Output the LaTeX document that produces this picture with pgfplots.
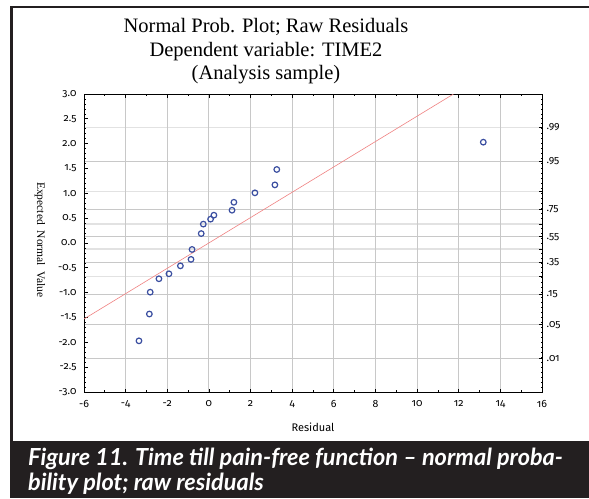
\documentclass[border=0pt]{standalone}
\usepackage{fontspec}
\setmainfont{Liberation Serif}
\newfontfamily\tickfont[Numbers=OldStyle]{Fira Sans}
\newfontfamily\capfont{Lato}
\usepackage{pgfplots}
\pgfplotsset{compat=1.18}
\definecolor{ptblue}{RGB}{58,78,160}
\definecolor{fitred}{RGB}{240,130,130}
\definecolor{gridgray}{RGB}{200,200,200}
\definecolor{gridlight}{RGB}{226,226,226}
\definecolor{capbg}{RGB}{35,31,32}

\begin{document}
\begin{tikzpicture}
\useasboundingbox (0,0) rectangle (589pt,498pt);
\fill[white] (0,0) rectangle (589pt,498pt);
\fill[capbg] (10pt,0) rectangle (589pt,57pt);
\draw[capbg, line width=2.5pt, line join=miter] (11.5pt,57pt) -- (11.5pt,491pt) -- (589pt,491pt);

% title
\node[anchor=base, font=\fontsize{20.5}{23}\selectfont] at (266pt,465pt) {Normal Prob. Plot; Raw Residuals};
\node[anchor=base, font=\fontsize{20.5}{23}\selectfont] at (266pt,441pt) {Dependent variable: TIME2};
\node[anchor=base, font=\fontsize{20.5}{23}\selectfont] at (266pt,418pt) {(Analysis sample)};

% right-hand probability scale and its grid
\begin{axis}[
  at={(84pt,106pt)}, anchor=south west, scale only axis,
  width=458pt, height=298pt,
  xmin=-6, xmax=16, ymin=-3, ymax=3,
  hide x axis, axis y line*=right,
  tick align=inside,
  ytick={-2.3263,-1.6449,-1.0364,-0.3853,0.1257,0.6745,1.6449},
  yticklabels={.01,.05,.15,.35,.55,.75,.95},
  extra y ticks={-0.6745,-0.1257,0.3853,1.0364,2.3263},
  extra y tick labels={,,,,.99},
  extra y tick style={major grid style={draw=gridlight, line width=1.6pt}},
  ymajorgrids, major grid style={draw=gridgray, line width=0.9pt},
  minor ytick={-2.9,-2.8,...,2.9},
  major tick length=3pt, minor tick length=1.5pt,
  tick style={black, line width=0.7pt},
  yticklabel style={font=\tickfont\fontsize{10.5}{11}\selectfont, xshift=1pt},
  axis line style={black, line width=1pt},
]
\end{axis}

% main axis
\begin{axis}[
  at={(84pt,106pt)}, anchor=south west, scale only axis,
  width=458pt, height=298pt,
  xmin=-6, xmax=16, ymin=-3, ymax=3,
  xtick={-6,-4,...,16},
  xticklabels={-6,-4,-2,0,2,4,6,8,10,12,14,16},
  minor x tick num=1,
  ytick={-3,-2.5,-2,-1.5,-1,-0.5,0,0.5,1,1.5,2,2.5,3},
  yticklabels={-3.0,-2.5,-2.0,-1.5,-1.0,-0.5,0.0,0.5,1.0,1.5,2.0,2.5,3.0},
  minor y tick num=4,
  ytick pos=left, xtick pos=both,
  tick align=inside,
  xmajorgrids, major grid style={draw=gridgray, line width=0.9pt},
  major tick length=3.5pt, minor tick length=1.8pt,
  tick style={black, line width=0.7pt},
  axis line style={black, line width=1pt},
  xticklabel style={font=\tickfont\fontsize{10.5}{11}\selectfont, yshift=-5pt},
  yticklabel style={font=\tickfont\fontsize{10.5}{11}\selectfont, xshift=-4pt},
  xlabel={Residual},
  xlabel style={at={(axis description cs:0.5,0)}, anchor=center, yshift=-35pt, font=\tickfont\fontsize{11}{12}\selectfont},
  clip=true,
]
\addplot[fitred, line width=0.6pt] coordinates {(-6,-1.53) (11.75,3.0)};
\addplot[only marks, mark=o, mark size=2.8pt, ptblue, line width=1.2pt] coordinates {
  (-3.36,-1.97) (-2.86,-1.43) (-2.82,-0.99) (-2.40,-0.72) (-1.92,-0.62)
  (-1.37,-0.46) (-0.86,-0.33) (-0.81,-0.13) (-0.37,0.19) (-0.27,0.38)
  (0.08,0.48) (0.24,0.56) (1.11,0.66) (1.20,0.82) (2.21,1.01)
  (3.17,1.17) (3.26,1.48) (13.18,2.03)
};
\end{axis}

\node[rotate=-90, font=\fontsize{11.5}{12}\selectfont] at (40pt,258pt) {Expected\ \ Normal\ \ Value};

% caption band
\node[anchor=base west, inner sep=0pt, text=white, font=\capfont\bfseries\itshape\fontsize{23.5}{26}\selectfont] at (28pt,32pt) {Figure 11. Time till pain-free function – normal proba-};
\node[anchor=base west, inner sep=0pt, text=white, font=\capfont\bfseries\itshape\fontsize{23.5}{26}\selectfont] at (28pt,7pt) {bility plot; raw residuals};
\end{tikzpicture}
\end{document}
